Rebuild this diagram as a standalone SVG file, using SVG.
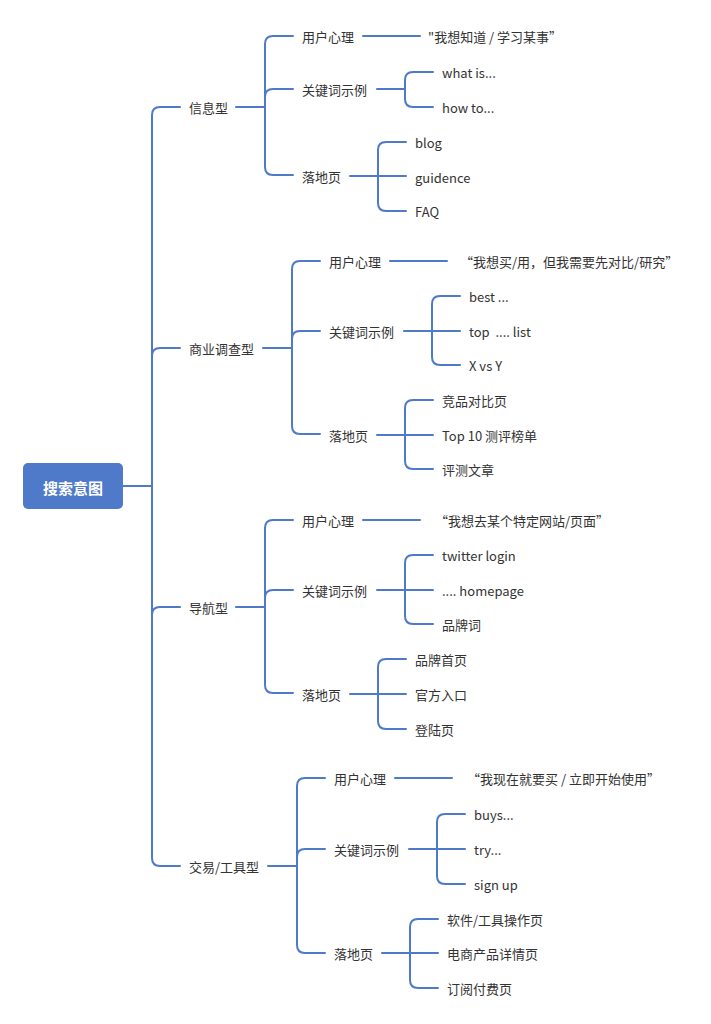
<svg xmlns="http://www.w3.org/2000/svg" width="711" height="1024" viewBox="0 0 711 1024">
<style>
.ln{fill:none;stroke:#4f79c9;stroke-width:2;stroke-linecap:round}
text{font-family:"Noto Sans CJK SC","Noto Sans",sans-serif;font-size:13px;fill:#333;dominant-baseline:central}
.root{font-size:15px;font-weight:bold;fill:#fff;text-anchor:middle}
</style>
<rect width="711" height="1024" fill="#fff"/>
<g id="connectors">
<path class="ln" d="M123,486 H152"/>
<path class="ln" d="M180,107 H160 Q152,107 152,115 V858 Q152,866 160,866 H180"/>
<path class="ln" d="M152,356 Q152,348 160,348 H180"/>
<path class="ln" d="M152,615 Q152,607 160,607 H180"/>
<!-- info -->
<path class="ln" d="M236,107 H265"/>
<path class="ln" d="M293,36 H273 Q265,36 265,44 V167 Q265,175 273,175 H293"/>
<path class="ln" d="M265,97 Q265,89 273,89 H293"/>
<path class="ln" d="M363,36 H420"/>
<path class="ln" d="M377,89 H405"/>
<path class="ln" d="M433,72 H413 Q405,72 405,80 V99 Q405,107 413,107 H433"/>
<path class="ln" d="M350,176 H406"/>
<path class="ln" d="M406,142 H386 Q378,142 378,150 V203 Q378,211 386,211 H406"/>
<!-- commercial -->
<path class="ln" d="M263,348 H292"/>
<path class="ln" d="M320,261 H300 Q292,261 292,269 V426 Q292,434 300,434 H320"/>
<path class="ln" d="M292,339 Q292,331 300,331 H320"/>
<path class="ln" d="M390,261 H447"/>
<path class="ln" d="M404,331 H460"/>
<path class="ln" d="M460,296 H440 Q432,296 432,304 V357 Q432,365 440,365 H460"/>
<path class="ln" d="M377,435 H433"/>
<path class="ln" d="M433,400 H413 Q405,400 405,408 V461 Q405,469 413,469 H433"/>
<!-- navigation -->
<path class="ln" d="M236,607 H265"/>
<path class="ln" d="M293,520 H273 Q265,520 265,528 V685 Q265,693 273,693 H293"/>
<path class="ln" d="M265,598 Q265,590 273,590 H293"/>
<path class="ln" d="M363,520 H420"/>
<path class="ln" d="M377,590 H433"/>
<path class="ln" d="M433,555 H413 Q405,555 405,563 V616 Q405,624 413,624 H433"/>
<path class="ln" d="M350,694 H406"/>
<path class="ln" d="M406,659 H386 Q378,659 378,667 V721 Q378,729 386,729 H406"/>
<!-- transaction -->
<path class="ln" d="M268,866 H297"/>
<path class="ln" d="M325,778 H305 Q297,778 297,786 V945 Q297,953 305,953 H325"/>
<path class="ln" d="M297,857 Q297,849 305,849 H325"/>
<path class="ln" d="M395,778 H452"/>
<path class="ln" d="M409,849 H465"/>
<path class="ln" d="M465,814 H445 Q437,814 437,822 V876 Q437,884 445,884 H465"/>
<path class="ln" d="M382,953 H438"/>
<path class="ln" d="M438,919 H418 Q410,919 410,927 V980 Q410,988 418,988 H438"/>
</g>
<g id="root">
<rect x="23" y="463" width="100" height="46" rx="5" fill="#4f79c9"/>
<text class="root" x="73" y="487">搜索意图</text>
</g>
<g id="info">
<text x="189" y="107">信息型</text>
<text x="302" y="36">用户心理</text>
<text x="428" y="36">"我想知道 / 学习某事”</text>
<text x="302" y="89">关键词示例</text>
<text x="442" y="72">what is...</text>
<text x="442" y="107">how to...</text>
<text x="302" y="176">落地页</text>
<text x="415" y="142">blog</text>
<text x="415" y="177">guidence</text>
<text x="415" y="211">FAQ</text>
</g>
<g id="commercial">
<text x="189" y="348">商业调查型</text>
<text x="329" y="261">用户心理</text>
<text x="460" y="261">“我想买/用，但我需要先对比/研究”</text>
<text x="329" y="331">关键词示例</text>
<text x="469" y="296">best ...</text>
<text x="469" y="331" xml:space="preserve">top  .... list</text>
<text x="469" y="365">X vs Y</text>
<text x="329" y="435">落地页</text>
<text x="442" y="400">竞品对比页</text>
<text x="442" y="435">Top 10 测评榜单</text>
<text x="442" y="469">评测文章</text>
</g>
<g id="navigation">
<text x="189" y="607">导航型</text>
<text x="302" y="520">用户心理</text>
<text x="435" y="520">“我想去某个特定网站/页面”</text>
<text x="302" y="590">关键词示例</text>
<text x="442" y="555">twitter login</text>
<text x="442" y="590">.... homepage</text>
<text x="442" y="624">品牌词</text>
<text x="302" y="694">落地页</text>
<text x="415" y="659">品牌首页</text>
<text x="415" y="694">官方入口</text>
<text x="415" y="729">登陆页</text>
</g>
<g id="transaction">
<text x="189" y="866">交易/工具型</text>
<text x="334" y="778">用户心理</text>
<text x="467" y="778">“我现在就要买 / 立即开始使用”</text>
<text x="334" y="849">关键词示例</text>
<text x="474" y="814">buys...</text>
<text x="474" y="849">try...</text>
<text x="474" y="884">sign up</text>
<text x="334" y="953">落地页</text>
<text x="447" y="919">软件/工具操作页</text>
<text x="447" y="953">电商产品详情页</text>
<text x="447" y="988">订阅付费页</text>
</g>
</svg>
